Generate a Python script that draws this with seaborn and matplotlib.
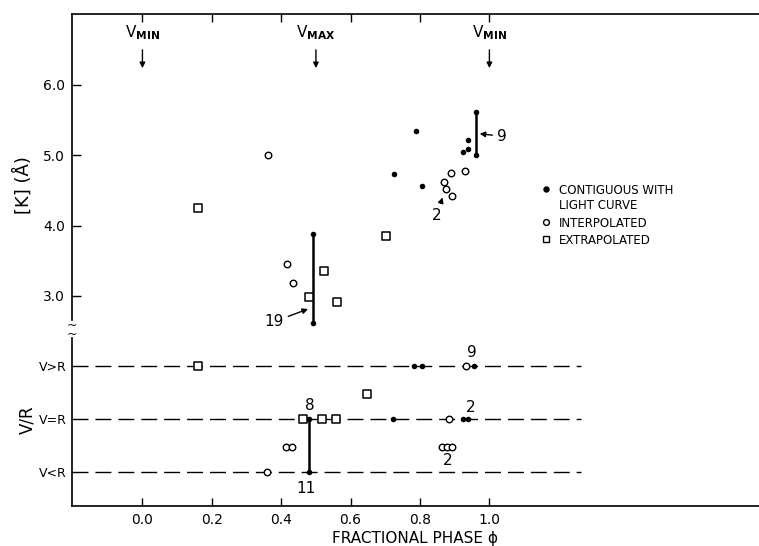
import numpy as np
import pandas as pd
import matplotlib
matplotlib.use("Agg")
import matplotlib.pyplot as plt
import seaborn as sns
from matplotlib.lines import Line2D

# ---------------- data ----------------
# Upper panel: [K] (Å) versus fractional phase
contig_phase = [0.492, 0.492, 0.726, 0.788, 0.807, 0.924, 0.939, 0.939, 0.960, 0.960]
contig_k = [3.88, 2.61, 4.74, 5.34, 4.57, 5.05, 5.09, 5.22, 5.62, 5.00]
interp_phase = [0.361, 0.416, 0.433, 0.868, 0.876, 0.891, 0.889, 0.930]
interp_k = [5.00, 3.46, 3.18, 4.62, 4.52, 4.42, 4.75, 4.78]
extrap_phase = [0.159, 0.481, 0.522, 0.560, 0.702]
extrap_k = [4.25, 2.98, 3.35, 2.91, 3.85]

# spectra measured repeatedly at one phase (range bars)
upper_link_phase = [0.492, 0.960]
upper_link_low = [2.61, 5.00]
upper_link_high = [3.88, 5.62]

# Lower panel: V/R level (0 = V<R, 1 = V=R, 2 = V>R)
vr_tick_labels = ["V<R", "V=R", "V>R"]
vr_levels = [0, 1, 2]
vr_contig_phase = [0.783, 0.807, 0.956, 0.479, 0.723, 0.925, 0.939, 0.479]
vr_contig_level = [2, 2, 2, 1, 1, 1, 1, 0]
vr_interp_phase = [0.932, 0.884, 0.415, 0.432, 0.863, 0.878, 0.893, 0.360]
vr_interp_level = [2, 1, 0.46, 0.46, 0.46, 0.46, 0.46, 0]
vr_extrap_phase = [0.160, 0.463, 0.517, 0.559, 0.647]
vr_extrap_level = [2, 1, 1, 1, 1.46]
lower_link_phase = [0.479]
lower_link_low = [0]
lower_link_high = [1]

x_ticks = [0.0, 0.2, 0.4, 0.6, 0.8, 1.0]
x_tick_labels = ["0.0", "0.2", "0.4", "0.6", "0.8", "1.0"]
k_ticks = [3.0, 4.0, 5.0, 6.0]
k_tick_labels = ["3.0", "4.0", "5.0", "6.0"]

phase_marks = [0.0, 0.5, 1.0]
phase_mark_labels = [r"V$_{\mathbf{MIN}}$", r"V$_{\mathbf{MAX}}$", r"V$_{\mathbf{MIN}}$"]

legend_labels = ["CONTIGUOUS WITH\nLIGHT CURVE", "INTERPOLATED", "EXTRAPOLATED"]

# ---------------- style ----------------
sns.set_style("ticks")
plt.rcParams["font.family"] = ["DejaVu Sans"]
plt.rcParams["mathtext.fontset"] = "dejavusans"
for key in ["text.color", "axes.labelcolor", "xtick.color", "ytick.color",
            "axes.edgecolor", "xtick.labelcolor", "ytick.labelcolor"]:
    plt.rcParams[key] = "black"

W, H = 759, 546
fig = plt.figure(figsize=(W / 100, H / 100), dpi=100)
fig.patch.set_facecolor("white")


def fx(px):
    return px / W


def fy(py):
    return 1 - py / H


L, R, T, M, B = 72, 759, 14, 333, 506
ax1 = fig.add_axes([fx(L), fy(M), fx(R) - fx(L), fy(T) - fy(M)])
ax2 = fig.add_axes([fx(L), fy(B), fx(R) - fx(L), fy(M) - fy(B)])

XL = (-0.203, 1.777)
for ax in (ax1, ax2):
    ax.set_xlim(*XL)
    ax.set_facecolor("white")
ax1.set_ylim(2.472, 7.01)
ax2.set_ylim(-0.647, 2.617)

SPW = 1.2
# upper axes spines
ax1.spines["right"].set_visible(False)
ax1.spines["bottom"].set_visible(False)
ax1.spines["left"].set_linewidth(SPW)
ax1.spines["top"].set_linewidth(SPW)
ax1.spines["left"].set_bounds(2.657, 7.01)
# lower axes spines
ax2.spines["right"].set_visible(False)
ax2.spines["top"].set_visible(False)
ax2.spines["left"].set_linewidth(SPW)
ax2.spines["bottom"].set_linewidth(SPW)
ax2.spines["left"].set_bounds(-0.647, 2.523)

# ticks upper
ax1.xaxis.set_ticks_position("top")
ax1.set_xticks(x_ticks)
ax1.tick_params(axis="x", which="both", direction="in", length=6, width=1.0,
                labeltop=False, labelbottom=False, top=True, bottom=False)
ax1.set_yticks(k_ticks)
ax1.set_yticklabels(k_tick_labels)
ax1.tick_params(axis="y", direction="in", length=6.5, width=1.0, pad=5, labelsize=10)

# ticks lower
ax2.set_xticks(x_ticks)
ax2.set_xticklabels(x_tick_labels)
ax2.tick_params(axis="x", direction="in", length=6, width=1.0, pad=5, labelsize=10)
ax2.set_yticks(vr_levels)
ax2.set_yticklabels(vr_tick_labels)
ax2.tick_params(axis="y", length=0, pad=4, labelsize=9)

# ---------------- upper panel marks ----------------
ax1.vlines(upper_link_phase, upper_link_low, upper_link_high, colors="black", lw=1.8, zorder=2)
sns.scatterplot(x=extrap_phase, y=extrap_k, ax=ax1, marker="s", s=30,
                color="white", edgecolor="black", linewidth=1.1, zorder=3)
sns.scatterplot(x=interp_phase, y=interp_k, ax=ax1, marker="o", s=22,
                color="white", edgecolor="black", linewidth=1.0, zorder=3)
sns.scatterplot(x=contig_phase, y=contig_k, ax=ax1, marker="o", s=16,
                color="black", edgecolor="black", linewidth=0, zorder=4)

# ---------------- lower panel marks ----------------
ax2.hlines(vr_levels, XL[0], 1.265, colors="black", lw=1.0,
           linestyles=[(0, (11.5, 5))], zorder=1)
ax2.vlines(lower_link_phase, lower_link_low, lower_link_high, colors="black", lw=1.8, zorder=2)
sns.scatterplot(x=vr_extrap_phase, y=vr_extrap_level, ax=ax2, marker="s", s=30,
                color="white", edgecolor="black", linewidth=1.1, zorder=3)
sns.scatterplot(x=vr_interp_phase, y=vr_interp_level, ax=ax2, marker="o", s=22,
                color="white", edgecolor="black", linewidth=1.0, zorder=3)
sns.scatterplot(x=vr_contig_phase, y=vr_contig_level, ax=ax2, marker="o", s=16,
                color="black", edgecolor="black", linewidth=0, zorder=4)

# ---------------- phase markers (V_MIN / V_MAX) ----------------
arrow_kw = dict(arrowstyle="-|>", color="black", lw=1.0, mutation_scale=8,
                shrinkA=0, shrinkB=0)
for xm, lab in zip(phase_marks, phase_mark_labels):
    ax1.text(xm, 6.74, lab, ha="center", va="center", fontsize=11, color="black")
    ax1.annotate("", xy=(xm, 6.24), xytext=(xm, 6.50), arrowprops=arrow_kw)

# ---------------- count annotations ----------------
ann_kw = dict(arrowstyle="-|>", color="black", lw=1.0, mutation_scale=8,
              shrinkA=1, shrinkB=1)
ax1.annotate("19", xy=(0.481, 2.82), xytext=(0.379, 2.633), ha="center", va="center",
             fontsize=11, arrowprops=ann_kw)
ax1.annotate("9", xy=(0.968, 5.31), xytext=(1.036, 5.27), ha="center", va="center",
             fontsize=11, arrowprops=ann_kw)
ax1.annotate("2", xy=(0.866, 4.42), xytext=(0.849, 4.15), ha="center", va="center",
             fontsize=11, arrowprops=ann_kw)

ax2.text(0.482, 1.24, "8", ha="center", va="center", fontsize=11)
ax2.text(0.472, -0.31, "11", ha="center", va="center", fontsize=11)
ax2.text(0.949, 2.245, "9", ha="center", va="center", fontsize=11)
ax2.text(0.946, 1.215, "2", ha="center", va="center", fontsize=11)
ax2.text(0.879, 0.21, "2", ha="center", va="center", fontsize=11)

# ---------------- legend ----------------
h_contig = Line2D([], [], marker="o", linestyle="none", markersize=3.6,
                  markerfacecolor="black", markeredgecolor="black")
h_interp = Line2D([], [], marker="o", linestyle="none", markersize=4.2,
                  markerfacecolor="white", markeredgecolor="black", markeredgewidth=1.0)
h_extrap = Line2D([], [], marker="s", linestyle="none", markersize=4.6,
                  markerfacecolor="white", markeredgecolor="black", markeredgewidth=1.0)
leg = ax1.legend([h_contig, h_interp, h_extrap], legend_labels,
                 loc="upper left", bbox_to_anchor=(fx(540), fy(184)),
                 bbox_transform=fig.transFigure, frameon=False, fontsize=8.5,
                 handlelength=1.0, handleheight=1.1, handletextpad=0.6,
                 labelspacing=0.4, borderpad=0, borderaxespad=0,
                 labelcolor="black")
try:
    for col in leg._legend_handle_box.get_children():
        for item in col.get_children():
            item.align = "top"
except Exception:
    pass

# ---------------- axis labels ----------------
ax2.set_xlabel("FRACTIONAL PHASE \u03d5", fontsize=11, labelpad=3, color="black")
fig.text(fx(23), fy(185), "[K] (\u00c5)", rotation=90, ha="center", va="center", fontsize=13)
fig.text(fx(27), fy(420), "V/R", rotation=90, ha="center", va="center", fontsize=12)

# axis break mark (two tildes on the broken axis)
fig.text(fx(72.3), fy(330), "~\n~", ha="center", va="center", fontsize=9,
         linespacing=0.55)

fig.savefig("out.png", dpi=100, facecolor="white")
